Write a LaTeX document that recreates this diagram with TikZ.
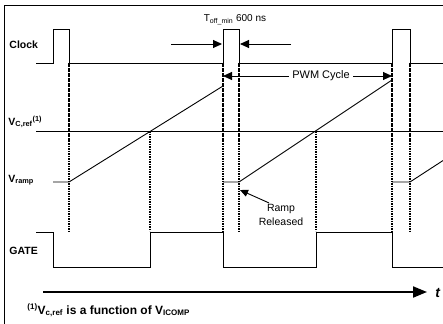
\documentclass[tikz,border=0pt]{standalone}
\usepackage{fontspec}
\setmainfont{Liberation Sans}
\usetikzlibrary{arrows.meta}

\begin{document}
\begin{tikzpicture}[x = 1pt, y = -1pt, line width = 0.9pt,
  dots/.style = {line width = 2.4pt, dash pattern = on 1.8pt off 0.7pt},
  lbl/.style = {anchor = base west, inner sep = 0, font = \bfseries\fontsize{10.5}{12}\selectfont},
  tip/.style = {-{Triangle[length = 9pt, width = 8pt]}}]
\useasboundingbox (0, 0) rectangle (443, 323);
\clip (0, 0) rectangle (443, 323);
\draw (4, 330) -- (4, 5) -- (450, 5);
\node[lbl] (clock) at (9, 49) {Clock};
\node[lbl] (vref) at (8, 125) {V\textsubscript{C,ref}\textsuperscript{(1)}};
\node[lbl] (vramp) at (8, 182) {V\textsubscript{ramp}};
\node[lbl] (gate) at (9, 254) {GATE};
\node[lbl, font = \bfseries\fontsize{12}{14}\selectfont] (note) at (27, 314) {\textsuperscript{(1)}V\textsubscript{c,ref} is a function of V\textsubscript{ICOMP}};
\draw (36, 63) -- (53, 63) -- (53, 29) -- (69, 29) -- (69, 63) -- (223, 63) -- (223, 29) -- (239, 29) -- (239, 63) -- (392, 63) -- (392, 29) -- (410, 29) -- (410, 63) -- (450, 63);
\draw (36, 131) -- (450, 131);
\draw (53, 182) -- (69, 182) -- (223, 86);
\draw (223, 182) -- (239, 182) -- (392, 80);
\draw (392, 182) -- (410, 182) -- (450, 156);
\draw (36, 232) -- (53, 232) -- (53, 267) -- (150, 267) -- (150, 232) -- (223, 232) -- (223, 267) -- (316, 267) -- (316, 232) -- (392, 232) -- (392, 267) -- (450, 267);
\draw[dots] (69, 63) -- (69, 231);
\draw[dots] (150, 131) -- (150, 231);
\draw[dots] (223, 63) -- (223, 231);
\draw[dots] (239, 63) -- (239, 231);
\draw[dots] (316, 131) -- (316, 231);
\draw[dots] (392, 63) -- (392, 231);
\draw[dots] (410, 63) -- (410, 231);
\node[font = \fontsize{10}{12}\selectfont, anchor = base] (toff) at (235, 22) {T\textsubscript{off\_min} 600 ns};
\coordinate (offl) at (222, 44);
\coordinate (offr) at (240, 44);
\draw[tip] (171, 44) -- (offl);
\draw[tip] (291, 44) -- (offr);
\node[font = \fontsize{11}{13}\selectfont, inner sep = 3pt] (pwm) at (321, 76) {PWM Cycle};
\coordinate (pwml) at (223, 76);
\coordinate (pwmr) at (392, 76);
\draw[tip] (pwm.west) -- (pwml);
\draw[tip] (pwm.east) -- (pwmr);
\node[font = \fontsize{10.5}{14}\selectfont, align = center, inner sep = 1pt] (rel) at (281, 215) {Ramp\\Released};
\coordinate (relpt) at (240, 190);
\draw[-{Triangle[length = 8pt, width = 7pt]}] (rel.135) -- (relpt);
\node[font = \bfseries\itshape\fontsize{14}{16}\selectfont, anchor = base west, inner sep = 0] (t) at (435, 297) {t};
\coordinate (tend) at (427, 292);
\draw[line width = 2pt, -{Triangle[length = 14pt, width = 11pt]}] (43, 292) -- (tend);
\end{tikzpicture}
\end{document}
